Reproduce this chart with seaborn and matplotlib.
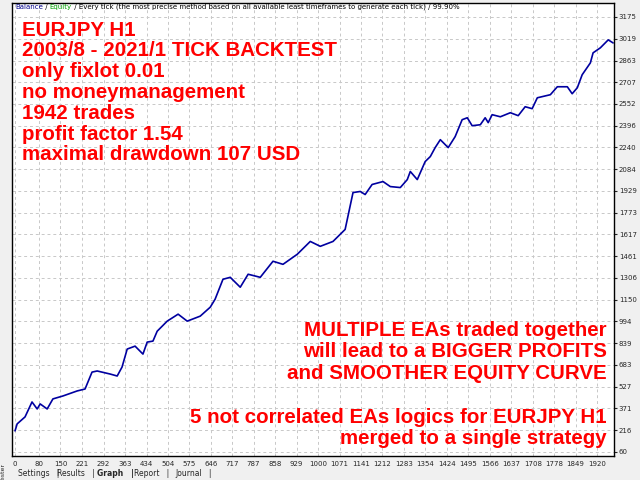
import numpy as np
import pandas as pd
import matplotlib
matplotlib.use('Agg')
import matplotlib.pyplot as plt
import seaborn as sns

# equity curve (trade number, balance)
trades = [0, 7, 33, 56, 73, 83, 106, 125, 158, 205, 231, 254, 271, 314, 337, 353, 370, 396,
          422, 436, 455, 469, 502, 538, 568, 611, 644, 660, 686, 710, 743, 769, 809, 851, 884,
          931, 974, 1007, 1049, 1089, 1115, 1139, 1155, 1178, 1214, 1238, 1271, 1294, 1304,
          1327, 1353, 1370, 1386, 1403, 1429, 1452, 1475, 1492, 1508, 1535, 1551, 1561, 1574,
          1601, 1634, 1660, 1683, 1706, 1723, 1766, 1789, 1822, 1838, 1855, 1871, 1898, 1907,
          1931, 1957, 1973]
balance = [210, 260, 310, 417, 367, 403, 367, 439, 460, 496, 510, 631, 639, 617, 603, 667, 796, 817,
           760, 846, 853, 924, 996, 1046, 996, 1032, 1096, 1153, 1296, 1310, 1239, 1332, 1310, 1425, 1403,
           1475, 1567, 1532, 1567, 1653, 1917, 1925, 1903, 1975, 1996, 1960, 1953, 2010, 2068,
           2010, 2139, 2175, 2239, 2296, 2239, 2318, 2439, 2453, 2396, 2403, 2453, 2418, 2475,
           2460, 2489, 2468, 2532, 2518, 2596, 2618, 2675, 2675, 2625, 2668, 2761, 2846, 2918,
           2954, 3011, 2989]

y_ticks = [60, 216, 371, 527, 683, 839, 994, 1150, 1306, 1461, 1617, 1773, 1929, 2084,
           2240, 2396, 2552, 2707, 2863, 3019, 3175]
x_ticks = [0, 80, 150, 221, 292, 363, 434, 504, 575, 646, 717, 787, 858, 929, 1000, 1071,
           1141, 1212, 1283, 1354, 1424, 1495, 1566, 1637, 1708, 1778, 1849, 1920]

left_text = ["EURJPY H1", "2003/8 - 2021/1 TICK BACKTEST", "only fixlot 0.01",
             "no moneymanagement", "1942 trades", "profit factor 1.54",
             "maximal drawdown 107 USD"]
right_text = ["MULTIPLE EAs traded together", "will lead to a BIGGER PROFITS",
              "and SMOOTHER EQUITY CURVE", "", "5 not correlated EAs logics for EURJPY H1",
              "merged to a single strategy"]
tabs = ["Settings", "Results", "Graph", "Report", "Journal"]

df = pd.DataFrame({'trade': trades, 'balance': balance})

sns.set_style('white')
plt.rcParams['font.family'] = ['DejaVu Sans']

fig = plt.figure(figsize=(6.4, 4.8), dpi=100)
fig.patch.set_facecolor('#f0f0f0')
ax = fig.add_axes([12/640, 1 - 456/480, 602/640, 453/480])
ax.set_facecolor('white')

sns.lineplot(data=df, x='trade', y='balance', ax=ax, color='#0000a0', linewidth=1.2)

ax.set_xlim(-10, 1976)
ax.set_ylim(30, 3275)
ax.set_xticks(x_ticks)
ax.set_yticks(y_ticks)
ax.set_xticklabels([str(t) for t in x_ticks], fontsize=5)
ax.set_yticklabels([str(t) for t in y_ticks], fontsize=5)
ax.yaxis.tick_right()
ax.tick_params(axis='both', length=2, pad=1.5)
ax.set_xlabel('')
ax.set_ylabel('')
ax.grid(True, color='#c8c8c8', linestyle=(0, (3, 3)), linewidth=0.7)
for s in ax.spines.values():
    s.set_color('black')
    s.set_linewidth(1)

# header line, pieces chained one after another
hdr = [("Balance", '#00008b'), (" / ", 'black'), ("Equity", '#00a000'),
       (" / Every tick (the most precise method based on all available least timeframes to generate each tick) / 99.90%", 'black')]
prev = ax.text(0.005, 0.997, hdr[0][0], transform=ax.transAxes, fontsize=5, color=hdr[0][1], va='top')
for txt, col in hdr[1:]:
    prev = ax.annotate(txt, xy=(1, 0), xycoords=prev, va='bottom', ha='left', fontsize=5, color=col)

red = dict(color='#ff0000', fontsize=14.8, fontweight='bold', family=['Liberation Sans', 'DejaVu Sans'])
for i, line in enumerate(left_text):
    fig.text(22/640, 1 - (30 + i*20.8)/480, line, va='center', ha='left', **red)
for i, line in enumerate(right_text):
    fig.text(607/640, 1 - (330 + i*21.8)/480, line, va='center', ha='right', **red)

# tester tabs
fig.text(1/640, 1 - 472/480, "Tester", rotation=90, fontsize=4.5, va='center', ha='left')
pos = [18, 57, 97, 134, 175]
for p, t in zip(pos, tabs):
    fig.text(p/640, 1 - 473/480, t + "   |", fontsize=5.5, va='center', ha='left',
             fontweight='bold' if t == 'Graph' else 'normal')

fig.savefig('out.png', dpi=100)
